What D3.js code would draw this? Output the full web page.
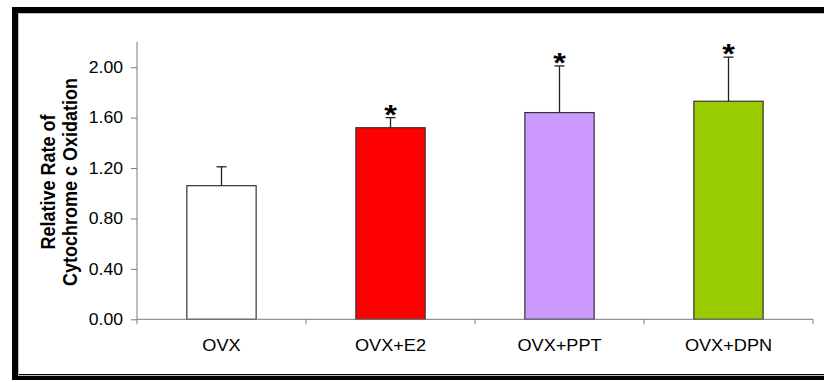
<!DOCTYPE html>
<html>
<head>
<meta charset="utf-8">
<script src="https://cdn.jsdelivr.net/npm/d3@7"></script>
<style>
  html, body { margin: 0; padding: 0; background: #fff; }
  svg { display: block; }
  text { font-family: "Liberation Sans", Arial, sans-serif; }
</style>
</head>
<body>
<svg id="chart" width="824" height="382"></svg>
<script>
// ---- data ----
const categories = ["OVX", "OVX+E2", "OVX+PPT", "OVX+DPN"];
const means      = [1.06, 1.52, 1.64, 1.73];
const errorTops  = [1.21, 1.60, 2.01, 2.08];
const significant = [false, true, true, true];
const barColors  = ["#FFFFFF", "#FF0000", "#CC99FF", "#99CC00"];
const yTicks     = [0, 0.4, 0.8, 1.2, 1.6, 2.0];
const yTitleLines = ["Relative Rate of", "Cytochrome c Oxidation"];

// ---- layout ----
const svg = d3.select("#chart");
const plotLeft = 137, plotRight = 813, plotTop = 42, plotBottom = 319.3;
const sx = 1.1; // slight horizontal stretch of glyphs in the reference

const x = d3.scaleBand().domain(categories).range([plotLeft, plotRight]).padding(0);
const y = d3.scaleLinear().domain([0, 2.2]).range([plotBottom, plotTop]);
const barW = x.bandwidth() * 0.41;

// frame
svg.append("rect")
  .attr("x", 15).attr("y", 10).attr("width", 900).attr("height", 367)
  .attr("fill", "none").attr("stroke", "#000").attr("stroke-width", 6);
svg.append("rect")
  .attr("x", 18.5).attr("y", 13.5).attr("width", 900).attr("height", 362)
  .attr("fill", "none").attr("stroke", "#bbb").attr("stroke-width", 1);

const axisColor = "#7a7a7a";

// bars
svg.append("g").selectAll("rect").data(categories).join("rect")
  .attr("x", d => x(d) + (x.bandwidth() - barW) / 2)
  .attr("y", (d, i) => y(means[i]))
  .attr("width", barW)
  .attr("height", (d, i) => y(0) - y(means[i]))
  .attr("fill", (d, i) => barColors[i])
  .attr("stroke", "#333")
  .attr("stroke-width", 1.2);

// error bars (upper only)
const eg = svg.append("g").attr("stroke", "#222").attr("stroke-width", 1.3);
categories.forEach((c, i) => {
  const cx = x(c) + x.bandwidth() / 2;
  eg.append("line").attr("x1", cx).attr("x2", cx)
    .attr("y1", y(means[i])).attr("y2", y(errorTops[i]));
  eg.append("line").attr("x1", cx - 5).attr("x2", cx + 5)
    .attr("y1", y(errorTops[i])).attr("y2", y(errorTops[i]));
});

// asterisks
svg.append("g").selectAll("text").data(categories.filter((c, i) => significant[i])).join("text")
  .attr("transform", d => {
    const i = categories.indexOf(d);
    return `translate(${x(d) + x.bandwidth() / 2},${y(errorTops[i]) + 6}) scale(1.2,1)`;
  })
  .attr("text-anchor", "middle")
  .attr("font-size", 27)
  .attr("font-weight", "bold")
  .attr("fill", "#000")
  .text("*");

// y axis
const yAxis = svg.append("g").attr("transform", `translate(${plotLeft},0)`)
  .call(d3.axisLeft(y).tickValues(yTicks).tickFormat(d3.format(".2f")).tickSize(6).tickSizeOuter(0));
yAxis.select(".domain").attr("stroke", axisColor).attr("d", `M0,${plotTop}V${plotBottom}`);
yAxis.selectAll(".tick line").attr("stroke", axisColor);
yAxis.selectAll(".tick text")
  .attr("transform", `translate(-14,0) scale(${sx},1)`)
  .attr("x", 0)
  .attr("font-size", 16)
  .attr("fill", "#000")
  .attr("font-family", "Liberation Sans, Arial, sans-serif");

// x axis
const xAxis = svg.append("g").attr("transform", `translate(0,${plotBottom})`);
xAxis.append("line").attr("x1", plotLeft).attr("x2", plotRight).attr("y1", 0).attr("y2", 0)
  .attr("stroke", axisColor);
const bounds = categories.map(c => x(c)).concat([plotRight]);
xAxis.selectAll("line.tk").data(bounds).join("line").attr("class", "tk")
  .attr("x1", d => d).attr("x2", d => d).attr("y1", 0).attr("y2", 5)
  .attr("stroke", axisColor);
xAxis.selectAll("text").data(categories).join("text")
  .attr("transform", d => `translate(${x(d) + x.bandwidth() / 2},32) scale(${sx},1)`)
  .attr("text-anchor", "middle")
  .attr("font-size", 16.5)
  .attr("fill", "#000")
  .text(d => d);

// y title
svg.append("g").selectAll("text").data(yTitleLines).join("text")
  .attr("transform", (d, i) => `translate(${55 + i * 22},182) scale(${sx},1) rotate(-90)`)
  .attr("text-anchor", "middle")
  .attr("font-size", 18)
  .attr("font-weight", "bold")
  .attr("fill", "#000")
  .text(d => d);
</script>
</body>
</html>
